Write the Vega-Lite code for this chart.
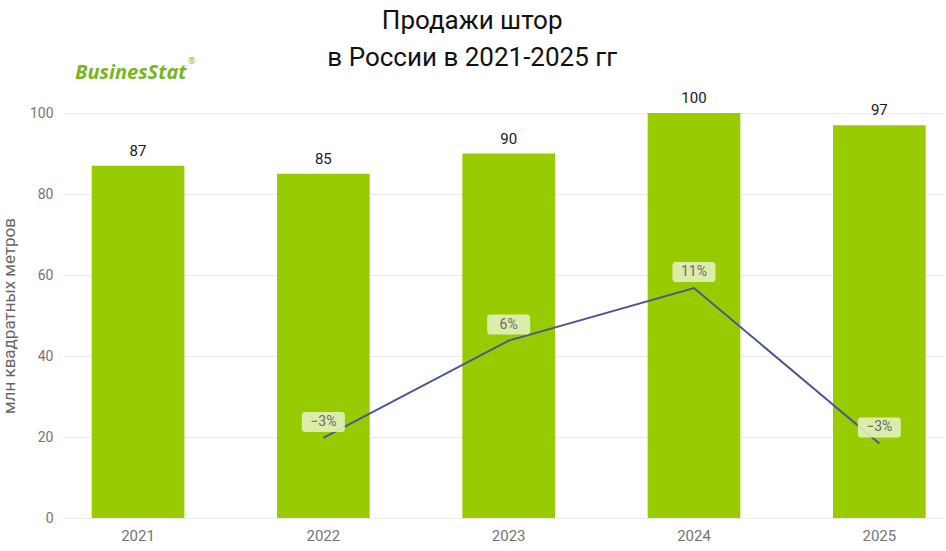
{
  "$schema": "https://vega.github.io/schema/vega-lite/v6.json",
  "width": 881,
  "height": 405,
  "padding": {"left": 0, "top": 8, "right": 2, "bottom": 6},
  "background": "white",
  "title": {
    "text": ["Продажи штор", "в России в 2021-2025 гг"],
    "font": "Roboto",
    "fontSize": 26,
    "fontWeight": "normal",
    "color": "#111111",
    "lineHeight": 37,
    "anchor": "middle",
    "frame": "bounds",
    "offset": -14
  },
  "config": {
    "view": {"stroke": null},
    "font": "Roboto"
  },
  "data": {
    "values": [
      {"year": "2021", "sales": 87, "growth": null},
      {"year": "2022", "sales": 85, "growth": -0.029},
      {"year": "2023", "sales": 90, "growth": 0.06},
      {"year": "2024", "sales": 100, "growth": 0.108},
      {"year": "2025", "sales": 97, "growth": -0.034}
    ]
  },
  "encoding": {
    "x": {
      "field": "year",
      "type": "nominal",
      "scale": {"paddingInner": 0.5, "paddingOuter": 0.127, "align": 0.61},
      "axis": {
        "title": null,
        "labelAngle": 0,
        "labelFont": "Roboto",
        "labelFontSize": 15,
        "labelColor": "#757575",
        "labelPadding": 10,
        "ticks": false,
        "domain": false
      }
    }
  },
  "layer": [
    {
      "mark": {"type": "bar", "color": "#99cc00"},
      "encoding": {
        "y": {
          "field": "sales",
          "type": "quantitative",
          "scale": {"domain": [0, 100]},
          "axis": {
            "title": "млн квадратных метров",
            "titleFont": "Roboto",
            "titleFontSize": 17,
            "titleFontWeight": "normal",
            "titleColor": "#666666",
            "titlePadding": 11,
            "values": [0, 20, 40, 60, 80, 100],
            "labelFont": "Roboto",
            "labelFontSize": 14,
            "labelColor": "#757575",
            "labelPadding": 10,
            "ticks": false,
            "domain": false,
            "gridColor": "#ebebeb"
          }
        }
      }
    },
    {
      "mark": {"type": "text", "baseline": "bottom", "dy": -7, "fontSize": 15, "color": "#1a1a1a", "font": "Roboto"},
      "encoding": {
        "y": {"field": "sales", "type": "quantitative", "scale": {"domain": [0, 100]}, "axis": null},
        "text": {"field": "sales", "type": "quantitative"}
      }
    },
    {
      "data": {"values": [{"year": "2021", "logo": "BusinesStat"}]},
      "mark": {"type": "text", "align": "left", "baseline": "alphabetic", "font": "Open Sans", "fontStyle": "italic", "fontWeight": "bold", "fontSize": 20, "color": "#7ab51d", "dx": -63},
      "encoding": {
        "y": {"datum": 108.5, "type": "quantitative", "scale": {"domain": [0, 100]}, "axis": null},
        "text": {"field": "logo"}
      }
    },
    {
      "data": {"values": [{"year": "2021", "logo": "®"}]},
      "mark": {"type": "text", "align": "left", "baseline": "alphabetic", "font": "Open Sans", "fontSize": 9, "color": "#7ab51d", "dx": 50},
      "encoding": {
        "y": {"datum": 112, "type": "quantitative", "scale": {"domain": [0, 100]}, "axis": null},
        "text": {"field": "logo"}
      }
    },
    {
      "transform": [{"filter": "datum.growth != null"}],
      "mark": {"type": "line", "color": "#4a5790", "strokeWidth": 2},
      "encoding": {
        "y": {"field": "growth", "type": "quantitative", "scale": {"domain": [-0.1022, 0.2681]}, "axis": null}
      }
    },
    {
      "transform": [{"filter": "datum.growth != null"}],
      "mark": {"type": "rect", "width": 43, "height": 20, "cornerRadius": 3, "color": "#e3f0bd", "opacity": 0.9, "yOffset": -16},
      "encoding": {
        "y": {"field": "growth", "type": "quantitative", "scale": {"domain": [-0.1022, 0.2681]}, "axis": null}
      }
    },
    {
      "transform": [{"filter": "datum.growth != null"}],
      "mark": {"type": "text", "fontSize": 14, "color": "#6b6b6b", "font": "Roboto", "yOffset": -16, "baseline": "middle"},
      "encoding": {
        "y": {"field": "growth", "type": "quantitative", "scale": {"domain": [-0.1022, 0.2681]}, "axis": null},
        "text": {"field": "growth", "type": "quantitative", "format": ".0%"}
      }
    }
  ],
  "resolve": {"scale": {"y": "independent"}}
}
